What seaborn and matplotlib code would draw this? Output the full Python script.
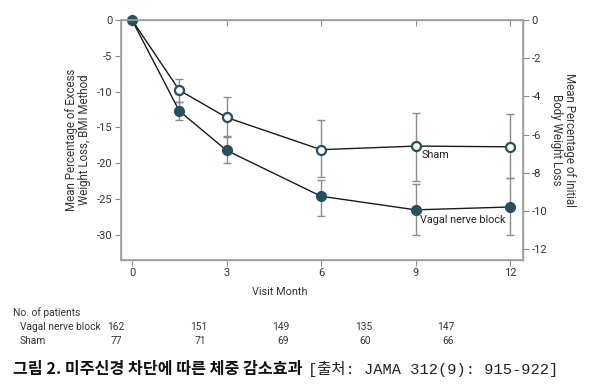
import numpy as np
import matplotlib
matplotlib.use("Agg")
import matplotlib.pyplot as plt
import seaborn as sns
import pandas as pd

# ── data ─────────────────────────────────────────────────────────────────────
months = [0, 1.5, 3, 6, 9, 12]
vnb_mean = [0, -12.7, -18.2, -24.6, -26.5, -26.1]
vnb_low = [0, -14.0, -20.0, -27.3, -30.0, -30.0]
vnb_high = [0, -11.5, -16.3, -22.4, -22.9, -22.1]
sham_mean = [0, -9.8, -13.6, -18.1, -17.6, -17.7]
sham_low = [0, -11.4, -16.2, -21.9, -22.5, -22.1]
sham_high = [0, -8.3, -10.8, -13.9, -13.0, -13.1]

x_ticks = [0, 3, 6, 9, 12]
left_ticks = [0, -5, -10, -15, -20, -25, -30]
right_ticks = [0, -2, -4, -6, -8, -10, -12]

table_rows = ["Vagal nerve block", "Sham"]
n_vnb = [162, 151, 149, 135, 147]
n_sham = [77, 71, 69, 60, 66]

# ── style ────────────────────────────────────────────────────────────────────
sns.set_theme(style="white")
plt.rcParams["font.family"] = ["Roboto", "DejaVu Sans"]
plt.rcParams["axes.unicode_minus"] = False

TEAL = "#25505c"
GREY = "#8c8c8c"
TXT = "#333333"
FS = 7.4

W, H = 600, 389
fig = plt.figure(figsize=(6, 3.89), dpi=100)
ax = fig.add_axes([121 / W, 1 - 260 / H, 402 / W, 240 / H])

# error bars
for lo, hi in [(vnb_low, vnb_high), (sham_low, sham_high)]:
    for x, l, h in zip(months[1:], lo[1:], hi[1:]):
        ax.errorbar(x, (l + h) / 2, yerr=(h - l) / 2, color=GREY, lw=1,
                    capsize=3, capthick=1, zorder=1)

df = pd.DataFrame({
    "month": months * 2,
    "value": vnb_mean + sham_mean,
    "group": ["Vagal nerve block"] * len(months) + ["Sham"] * len(months),
})
sns.lineplot(data=df, x="month", y="value", units="group", estimator=None,
             color="#1a1a1a", lw=1, ax=ax, zorder=2, legend=False)

ax.plot(months[1:], sham_mean[1:], "o", ms=6.5, mfc="white", mec=TEAL,
        mew=1.6, zorder=3, clip_on=False)
ax.plot(months, vnb_mean, "o", ms=7, mfc=TEAL, mec=TEAL, zorder=4,
        clip_on=False)

ax.set_xlim(-0.35, 12.41)
ax.set_ylim(-33.5, 0)
ax.set_xticks(x_ticks)
ax.set_yticks(left_ticks)
ax.set_xlabel("")
ax.set_ylabel("Mean Percentage of Excess\nWeight Loss, BMI Method",
              fontsize=8.3, color=TXT, labelpad=4, linespacing=1.0)
ax.tick_params(axis="both", labelsize=8, colors=TXT, length=4,
               width=0.8, color=GREY, pad=2)
for s in ax.spines.values():
    s.set_color("#a0a0a0")
    s.set_linewidth(1)

ax2 = ax.twinx()
ax2.set_ylim(-12.57, 0)
ax2.set_yticks(right_ticks)
ax2.tick_params(axis="y", labelsize=8, colors=TXT, length=4,
                width=0.8, color=GREY, pad=2)
ax2.set_ylabel("Mean Percentage of Initial\nBody Weight Loss", fontsize=8.3,
               color=TXT, rotation=270, labelpad=21, linespacing=1.0)
for s in ax2.spines.values():
    s.set_color("#a0a0a0")

# small marks hanging from the top spine
ax.xaxis.set_ticks_position("both")
ax.tick_params(axis="x", top=True, labeltop=False)
for t in ax.xaxis.get_major_ticks():
    t.tick2line.set_marker(3)
    t.tick2line.set_markersize(4)
    t.tick2line.set_markeredgecolor(GREY)

ax.text(9.2, -18.9, "Sham", fontsize=7.8, color="#222222", va="center")
ax.text(9.15, -27.9, "Vagal nerve block", fontsize=7.8, color="#222222",
        va="center")

# ── bottom table ─────────────────────────────────────────────────────────────
def fx(px):
    return px / W

def fy(py):
    return 1 - py / H

fig.text(fx(280), fy(292), "Visit Month", fontsize=7.8, color=TXT,
         ha="center", va="center")
fig.text(fx(13), fy(313), "No. of patients", fontsize=FS, color=TXT,
         va="center")
fig.text(fx(20), fy(327), table_rows[0], fontsize=FS, color=TXT, va="center")
fig.text(fx(20), fy(341), table_rows[1], fontsize=FS, color=TXT, va="center")
for px, n in zip([124, 207, 289, 372, 454], n_vnb):
    fig.text(fx(px), fy(327), str(n), fontsize=FS, color=TXT,
             ha="right", va="center")
for px, n in zip([122, 206, 289, 371, 454], n_sham):
    fig.text(fx(px), fy(341), str(n), fontsize=FS, color=TXT,
             ha="right", va="center")

fig.text(fx(13), fy(369), "그림 2. 미주신경 차단에 따른 체중 감소효과",
         fontsize=11.6, fontweight="bold", color="#111111", va="center",
         family=["Noto Sans CJK KR", "DejaVu Sans"])
fig.text(fx(308), fy(369), "[출처: JAMA 312(9): 915-922]", fontsize=11.1,
         color="#222222", va="center",
         family=["Liberation Mono", "Noto Sans CJK KR"])

fig.savefig("out.png", dpi=100)
